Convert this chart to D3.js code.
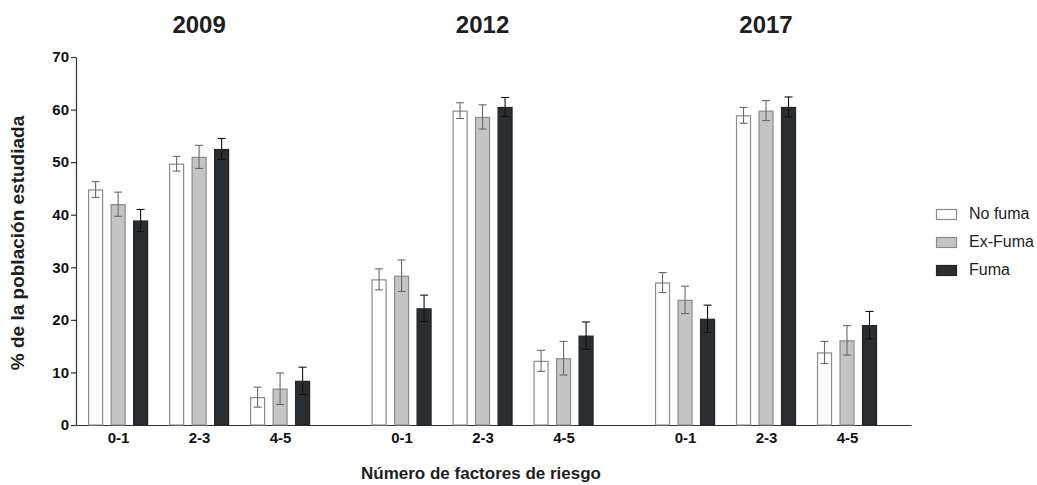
<!DOCTYPE html>
<html>
<head>
<meta charset="utf-8">
<script src="https://cdn.jsdelivr.net/npm/d3@7"></script>
<style>
  html, body { margin: 0; padding: 0; background: #fff; }
  svg { display: block; font-family: "Liberation Sans", Arial, sans-serif; }
</style>
</head>
<body>
<svg id="chart" width="1037" height="485"></svg>
<script>
// ---- data ----
const years = ["2009", "2012", "2017"];
const categories = ["0-1", "2-3", "4-5"];
const series = ["No fuma", "Ex-Fuma", "Fuma"];

// values[year][category] for each series
const noFuma  = [[44.8, 49.7, 5.3], [27.7, 59.8, 12.2], [27.1, 58.9, 13.8]];
const exFuma  = [[42.0, 51.0, 6.9], [28.4, 58.6, 12.7], [23.8, 59.8, 16.1]];
const fuma    = [[38.9, 52.5, 8.4], [22.2, 60.5, 17.0], [20.2, 60.5, 19.0]];

const noFumaErr = [[1.5, 1.4, 1.9], [2.0, 1.5, 2.0], [1.9, 1.5, 2.1]];
const exFumaErr = [[2.3, 2.2, 3.0], [3.0, 2.3, 3.2], [2.6, 1.9, 2.8]];
const fumaErr   = [[2.1, 2.0, 2.6], [2.5, 1.8, 2.6], [2.6, 1.9, 2.6]];

const yTicks = [0, 10, 20, 30, 40, 50, 60, 70];

const seriesValues = [noFuma, exFuma, fuma];
const seriesErrors = [noFumaErr, exFumaErr, fumaErr];
const fills   = ["#ffffff", "#c4c4c4", "#2b2e31"];
const strokes = ["#8c8c8c", "#8c8c8c", "#222427"];
const errCols = ["#6a6a6a", "#6a6a6a", "#111111"];

// ---- layout ----
const svg = d3.select("#chart");
const yearGap = 3.5; // slot units between year blocks
const slots = [];
years.forEach((yr, yi) => categories.forEach((c, ci) => {
  slots.push({ yi, ci, yr, cat: c, pos: yi * yearGap + ci });
}));

const x = d3.scaleLinear().domain([-0.52, 9.79]).range([76, 911]);
const sub = d3.scalePoint().domain(series).range([-22.5, 22.5]);
const barW = 15;
const y = d3.scaleLinear().domain([0, 70]).range([425, 57]);

// y axis
const yAxis = svg.append("g")
  .attr("transform", "translate(76,0)")
  .call(d3.axisLeft(y).tickValues(yTicks).tickSize(5).tickPadding(2).tickSizeOuter(0));
yAxis.select(".domain").attr("stroke", "#333").attr("stroke-width", 1.2);
yAxis.selectAll(".tick line").attr("stroke", "#333").attr("stroke-width", 1.2);
yAxis.selectAll(".tick text").attr("font-size", 15).attr("font-weight", "bold")
  .attr("fill", "#111").attr("font-family", "Liberation Sans, Arial, sans-serif");

// x axis
const xAxis = svg.append("g")
  .attr("transform", "translate(0,425)")
  .call(d3.axisBottom(x)
    .tickValues(slots.map(s => s.pos))
    .tickFormat((d, i) => slots[i].cat)
    .tickSize(0).tickPadding(7).tickSizeOuter(0));
xAxis.select(".domain").attr("stroke", "#333").attr("stroke-width", 1.2);
xAxis.selectAll(".tick text").attr("font-size", 15).attr("font-weight", "bold")
  .attr("fill", "#111").attr("font-family", "Liberation Sans, Arial, sans-serif");

// bars
const barData = [];
slots.forEach(s => series.forEach((name, si) => {
  barData.push({
    s, si, name,
    v: seriesValues[si][s.yi][s.ci],
    e: seriesErrors[si][s.yi][s.ci]
  });
}));

const bars = svg.append("g");
bars.selectAll("rect").data(barData).enter().append("rect")
  .attr("x", d => x(d.s.pos) + sub(d.name) - barW / 2 + 0.5)
  .attr("y", d => y(d.v) + 0.5)
  .attr("width", barW - 1)
  .attr("height", d => y(0) - y(d.v) - 0.5)
  .attr("fill", d => fills[d.si])
  .attr("stroke", d => strokes[d.si])
  .attr("stroke-width", 1.2);

// error bars
const errs = svg.append("g");
barData.forEach(d => {
  const cx = x(d.s.pos) + sub(d.name);
  const g = errs.append("g").attr("stroke", errCols[d.si]).attr("stroke-width", 1.1);
  g.append("line").attr("x1", cx).attr("x2", cx).attr("y1", y(d.v + d.e)).attr("y2", y(d.v - d.e));
  g.append("line").attr("x1", cx - 4).attr("x2", cx + 4).attr("y1", y(d.v + d.e)).attr("y2", y(d.v + d.e));
  g.append("line").attr("x1", cx - 4).attr("x2", cx + 4).attr("y1", y(d.v - d.e)).attr("y2", y(d.v - d.e));
});

// year titles
svg.append("g").selectAll("text").data(years).enter().append("text")
  .attr("x", (d, i) => x(i * yearGap + 1))
  .attr("y", 33)
  .attr("text-anchor", "middle")
  .attr("font-size", 24).attr("font-weight", "bold").attr("fill", "#1e1e1e")
  .text(d => d);

// axis titles
svg.append("text")
  .attr("transform", "translate(24,243) rotate(-90)")
  .attr("text-anchor", "middle")
  .attr("font-size", 19).attr("font-weight", "bold").attr("fill", "#1e1e1e")
  .text("% de la población estudiada");

svg.append("text")
  .attr("x", 481).attr("y", 479)
  .attr("text-anchor", "middle")
  .attr("font-size", 17).attr("font-weight", "bold").attr("fill", "#1e1e1e")
  .text("Número de factores de riesgo");

// legend
const legend = svg.append("g").attr("transform", "translate(936,209)");
const li = legend.selectAll("g").data(series).enter().append("g")
  .attr("transform", (d, i) => `translate(0,${i * 28})`);
li.append("rect")
  .attr("x", 0.5).attr("y", 0.5).attr("width", 20).attr("height", 10)
  .attr("fill", (d, i) => fills[i]).attr("stroke", (d, i) => strokes[i]).attr("stroke-width", 1.2);
li.append("text")
  .attr("x", 33).attr("y", 6)
  .attr("dominant-baseline", "middle")
  .attr("font-size", 16).attr("fill", "#1e1e1e")
  .text(d => d);
</script>
</body>
</html>
